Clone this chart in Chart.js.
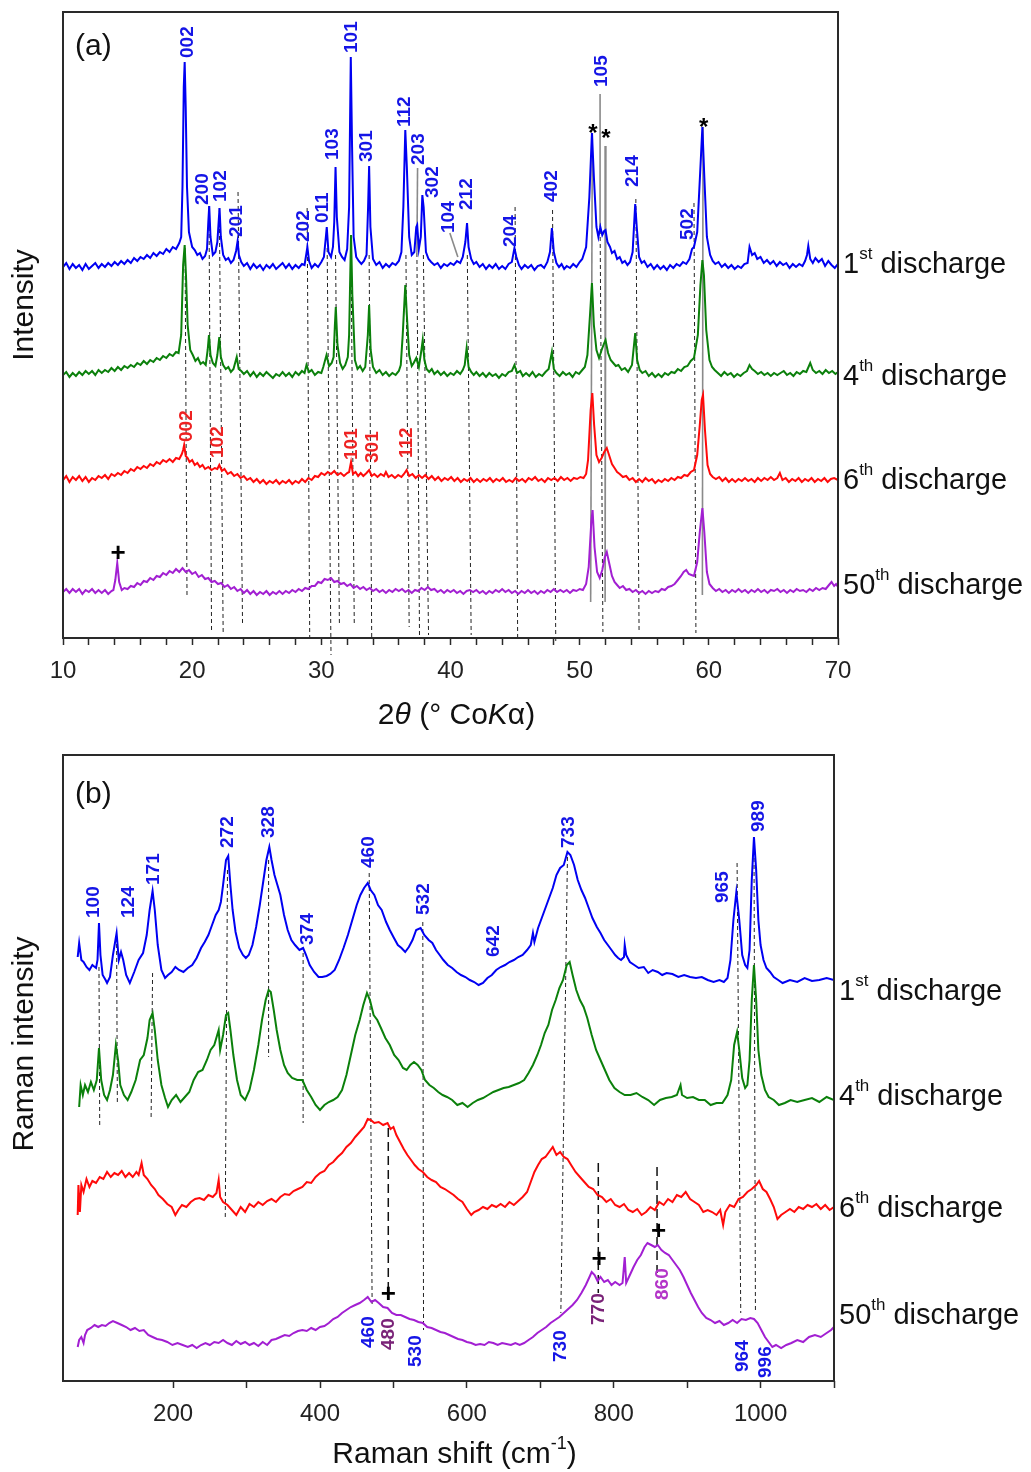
<!DOCTYPE html>
<html><head><meta charset="utf-8">
<script src="https://cdn.jsdelivr.net/npm/chart.js@4.4.1/dist/chart.umd.min.js"></script>
<style>
html,body{margin:0;padding:0;background:#fff;}
#wrap{position:relative;width:1031px;height:1472px;background:#fff;}
#ca{position:absolute;left:0;top:0;}
#cb{position:absolute;left:0;top:740px;}
</style></head><body>
<div id="wrap"><canvas id="ca" width="1031" height="740"></canvas><canvas id="cb" width="1031" height="732"></canvas></div>
<script>
const FONT = '"Liberation Sans", Arial, Helvetica, sans-serif';

// ---------- (a) XRD: [2theta, intensity above own baseline] ----------
const xrd1st = [[10,0],[10.25,4],[10.5,-2],[10.75,3],[11,-1],[11.25,2],[11.5,-3],[11.75,3],[12,-2],[12.25,1],[12.5,4],[12.75,-1],[13,3],[13.25,0],[13.5,4],[13.75,1],[14,5],[14.25,2],[14.5,6],[14.75,3],[15,7],[15.25,4],[15.5,9],[15.75,6],[16,10],[16.25,8],[16.5,12],[16.75,9],[17,14],[17.25,11],[17.5,15],[17.75,13],[18,18],[18.25,15],[18.5,20],[18.75,18],[19.0,24],[19.15,30],[19.25,80],[19.35,180],[19.42,205],[19.5,160],[19.6,80],[19.75,35],[20,20],[20.2,17],[20.4,12],[20.6,14],[20.8,8],[21.0,11],[21.15,18],[21.25,45],[21.32,61],[21.42,30],[21.6,12],[21.8,15],[21.95,25],[22.05,45],[22.12,59],[22.22,30],[22.4,12],[22.6,7],[22.8,9],[23.0,4],[23.2,7],[23.4,16],[23.52,26],[23.62,12],[23.8,5],[24,1],[24.25,4],[24.5,-2],[24.75,3],[25,-1],[25.25,2],[25.5,-3],[25.75,2],[26,-1],[26.25,3],[26.5,-2],[26.75,1],[27,4],[27.25,-1],[27.5,3],[27.75,-2],[28,2],[28.25,-1],[28.5,3],[28.7,2],[28.85,14],[28.92,20],[29.05,6],[29.25,-1],[29.5,3],[29.75,0],[30.0,5],[30.2,10],[30.35,30],[30.42,40],[30.55,15],[30.75,10],[30.9,20],[31.0,45],[31.1,100],[31.2,50],[31.4,15],[31.6,10],[31.8,7],[32.0,18],[32.15,60],[32.28,210],[32.38,120],[32.5,30],[32.7,10],[32.9,6],[33.1,3],[33.3,6],[33.5,12],[33.62,60],[33.7,101],[33.8,40],[34.0,8],[34.25,2],[34.5,5],[34.75,-1],[35,3],[35.25,0],[35.5,4],[35.75,2],[36.0,6],[36.2,15],[36.35,60],[36.5,137],[36.62,100],[36.8,30],[37.0,12],[37.2,15],[37.35,40],[37.42,42],[37.55,18],[37.7,30],[37.82,72],[37.92,60],[38.1,15],[38.3,8],[38.5,5],[38.75,2],[39,4],[39.25,-1],[39.5,3],[39.75,1],[40,4],[40.25,2],[40.5,6],[40.75,4],[40.95,10],[41.15,25],[41.28,44],[41.4,20],[41.6,8],[41.8,3],[42,5],[42.25,0],[42.5,3],[42.75,-2],[43,2],[43.25,-1],[43.5,3],[43.75,-2],[44,1],[44.25,-2],[44.5,3],[44.75,5],[44.95,19],[45.1,10],[45.3,2],[45.5,-2],[45.75,2],[46,-1],[46.25,2],[46.5,-3],[46.75,1],[47,2],[47.25,-1],[47.5,5],[47.7,15],[47.85,39],[48.0,15],[48.2,4],[48.4,0],[48.6,3],[48.8,-2],[49,1],[49.25,-1],[49.5,3],[49.75,0],[50,5],[50.2,8],[50.5,20],[50.75,70],[50.95,134],[51.1,90],[51.3,40],[51.45,30],[51.6,40],[51.75,32],[51.9,36],[52.0,37],[52.15,25],[52.35,20],[52.5,14],[52.7,16],[52.9,8],[53.1,10],[53.3,4],[53.5,6],[53.7,2],[53.9,5],[54.1,15],[54.3,63],[54.42,40],[54.6,10],[54.8,4],[55.0,6],[55.25,0],[55.5,3],[55.75,-2],[56,2],[56.25,-2],[56.5,1],[56.75,-3],[57,2],[57.25,-1],[57.5,3],[57.75,1],[58,5],[58.25,3],[58.5,8],[58.7,18],[58.85,20],[59.1,35],[59.35,100],[59.5,140],[59.65,90],[59.85,30],[60.1,12],[60.3,6],[60.5,3],[60.75,5],[61,0],[61.25,3],[61.5,-1],[61.75,2],[62,-2],[62.25,1],[62.5,-1],[62.75,3],[63.0,4],[63.15,20],[63.35,12],[63.55,14],[63.75,8],[64,10],[64.25,4],[64.5,7],[64.75,3],[65,6],[65.25,1],[65.5,5],[65.75,2],[66,4],[66.25,-1],[66.5,3],[66.75,0],[67,3],[67.25,1],[67.45,6],[67.6,12],[67.7,21],[67.85,8],[68.05,4],[68.25,9],[68.5,5],[68.75,8],[69,1],[69.25,6],[69.5,2],[69.75,-1],[70,3]];
const xrd4th = [[10,0],[10.25,3],[10.5,-2],[10.75,2],[11,-1],[11.25,3],[11.5,0],[11.75,4],[12,1],[12.25,4],[12.5,0],[12.75,5],[13,2],[13.25,5],[13.5,3],[13.75,7],[14,4],[14.25,8],[14.5,5],[14.75,9],[15,7],[15.25,10],[15.5,8],[15.75,12],[16,10],[16.25,14],[16.5,11],[16.75,15],[17,13],[17.25,17],[17.5,15],[17.75,19],[18,17],[18.25,21],[18.5,19],[18.75,23],[18.95,22],[19.15,40],[19.3,110],[19.42,130],[19.52,100],[19.65,50],[19.85,25],[20.05,20],[20.25,14],[20.45,17],[20.65,11],[20.85,13],[21.05,10],[21.2,25],[21.3,40],[21.42,20],[21.6,12],[21.8,9],[21.95,20],[22.1,38],[22.22,18],[22.4,10],[22.6,6],[22.8,8],[23.0,3],[23.2,6],[23.45,18],[23.6,6],[23.8,4],[24.0,1],[24.25,4],[24.5,-1],[24.75,3],[25,-2],[25.25,2],[25.5,-1],[25.75,3],[26,0],[26.25,-3],[26.5,1],[26.75,-1],[27,3],[27.25,-1],[27.5,2],[27.75,-2],[28,3],[28.25,0],[28.5,4],[28.7,2],[28.85,10],[29.05,3],[29.25,5],[29.5,0],[29.75,3],[30.0,2],[30.15,8],[30.4,20],[30.6,9],[30.8,12],[30.95,18],[31.05,50],[31.12,68],[31.25,30],[31.45,12],[31.65,6],[31.85,10],[32.05,18],[32.15,40],[32.3,140],[32.4,80],[32.6,15],[32.8,6],[33.0,9],[33.2,4],[33.4,8],[33.6,40],[33.7,70],[33.82,25],[34.0,8],[34.25,2],[34.5,5],[34.75,0],[35,3],[35.25,-1],[35.5,2],[35.75,0],[36.0,4],[36.15,10],[36.3,40],[36.5,90],[36.62,60],[36.8,20],[37.0,9],[37.15,12],[37.35,17],[37.55,8],[37.75,25],[37.85,35],[37.98,15],[38.15,6],[38.35,3],[38.55,6],[38.75,1],[39,4],[39.25,0],[39.5,3],[39.75,-1],[40,2],[40.25,0],[40.5,4],[40.75,1],[40.95,5],[41.1,10],[41.25,27],[41.4,8],[41.6,3],[41.8,0],[42,3],[42.25,-1],[42.5,2],[42.75,-2],[43,2],[43.25,-1],[43.5,1],[43.75,-3],[44,1],[44.25,-1],[44.5,3],[44.75,4],[44.95,10],[45.15,2],[45.4,4],[45.6,-1],[45.85,2],[46.1,-1],[46.35,3],[46.6,-2],[46.85,1],[47.1,-1],[47.35,3],[47.6,6],[47.85,23],[48.0,6],[48.2,2],[48.45,-1],[48.7,3],[48.95,0],[49.2,2],[49.45,-2],[49.7,3],[49.95,1],[50.2,5],[50.4,8],[50.6,20],[50.8,60],[50.95,92],[51.1,50],[51.3,25],[51.5,17],[51.7,25],[51.9,32],[52.0,35],[52.2,22],[52.4,15],[52.6,12],[52.8,9],[53.0,10],[53.25,5],[53.5,7],[53.75,3],[54.05,10],[54.3,42],[54.45,15],[54.65,5],[54.85,2],[55.1,4],[55.35,-1],[55.6,2],[55.85,-2],[56.1,1],[56.35,-2],[56.6,2],[56.85,0],[57.1,3],[57.35,2],[57.6,6],[57.85,4],[58.1,8],[58.35,9],[58.6,14],[58.85,17],[59.15,40],[59.35,90],[59.5,115],[59.62,100],[59.8,45],[60.05,15],[60.25,8],[60.45,5],[60.7,2],[60.95,-1],[61.2,3],[61.45,0],[61.7,2],[61.95,-2],[62.2,1],[62.45,-1],[62.7,2],[62.95,4],[63.15,10],[63.35,6],[63.55,4],[63.8,1],[64.05,3],[64.3,0],[64.55,2],[64.8,-1],[65.05,2],[65.3,0],[65.55,2],[65.8,4],[66.05,0],[66.3,2],[66.55,-1],[66.8,3],[67.05,1],[67.3,4],[67.55,3],[67.85,12],[68.05,5],[68.3,2],[68.55,4],[68.8,1],[69.05,5],[69.3,2],[69.55,4],[69.8,1],[70,3]];
const xrd6th = [[10,0],[10.25,4],[10.5,-2],[10.75,3],[11,0],[11.25,4],[11.5,-1],[11.75,3],[12,-2],[12.25,2],[12.5,0],[12.75,4],[13,2],[13.25,5],[13.5,1],[13.75,6],[14,4],[14.25,7],[14.5,5],[14.75,9],[15,7],[15.25,11],[15.5,9],[15.75,13],[16,11],[16.25,14],[16.5,12],[16.75,16],[17,14],[17.25,18],[17.5,16],[17.75,20],[18,18],[18.25,21],[18.5,18],[18.75,22],[19.0,21],[19.2,26],[19.3,30],[19.38,35],[19.5,24],[19.65,22],[19.8,18],[20.0,20],[20.2,15],[20.4,17],[20.6,13],[20.8,15],[21.0,11],[21.25,13],[21.5,10],[21.75,12],[21.95,11],[22.1,15],[22.3,9],[22.5,11],[22.75,6],[23.0,8],[23.25,4],[23.5,6],[23.75,2],[24,4],[24.25,0],[24.5,2],[24.75,-2],[25,1],[25.25,-3],[25.5,0],[25.75,-4],[26,-1],[26.25,-3],[26.5,0],[26.75,-4],[27,-1],[27.25,-3],[27.5,0],[27.75,-4],[28,-1],[28.25,-3],[28.5,1],[28.75,-2],[29,2],[29.25,0],[29.5,4],[29.75,3],[30,7],[30.25,5],[30.5,8],[30.75,6],[31,9],[31.25,5],[31.5,7],[31.75,4],[32.0,7],[32.15,8],[32.3,18],[32.45,6],[32.65,8],[32.85,4],[33.05,7],[33.25,4],[33.5,7],[33.7,10],[33.9,4],[34.1,6],[34.35,3],[34.6,6],[34.85,4],[35.0,8],[35.2,3],[35.45,5],[35.7,2],[35.95,5],[36.2,3],[36.4,6],[36.6,10],[36.8,4],[37.05,6],[37.3,2],[37.55,5],[37.8,2],[38.05,5],[38.3,1],[38.55,4],[38.8,0],[39.05,3],[39.3,-1],[39.55,2],[39.8,0],[40.05,3],[40.3,-1],[40.55,2],[40.8,-2],[41.05,1],[41.3,-1],[41.55,2],[41.8,-2],[42.05,1],[42.3,-2],[42.55,1],[42.8,-1],[43.05,2],[43.3,-2],[43.55,1],[43.8,-1],[44.05,2],[44.3,-2],[44.55,0],[44.8,-2],[45.05,2],[45.3,-1],[45.55,1],[45.8,-2],[46.05,2],[46.3,0],[46.55,3],[46.8,-1],[47.05,1],[47.3,-2],[47.55,2],[47.8,0],[48.05,2],[48.3,-1],[48.55,3],[48.8,0],[49.05,2],[49.3,-1],[49.55,2],[49.8,1],[50.05,3],[50.3,2],[50.5,6],[50.65,20],[50.85,70],[50.98,87],[51.12,55],[51.3,25],[51.5,18],[51.7,22],[51.9,28],[52.1,32],[52.3,24],[52.5,16],[52.7,12],[52.9,8],[53.1,6],[53.35,3],[53.6,4],[53.85,0],[54.1,2],[54.35,-2],[54.6,1],[54.85,-2],[55.1,2],[55.35,-1],[55.6,1],[55.85,-3],[56.1,0],[56.35,-2],[56.6,1],[56.85,-1],[57.1,2],[57.35,0],[57.6,3],[57.85,2],[58.1,5],[58.35,4],[58.6,8],[58.85,10],[59.1,25],[59.3,55],[59.45,80],[59.55,85],[59.7,50],[59.9,15],[60.1,6],[60.3,3],[60.55,1],[60.8,3],[61.05,-1],[61.3,2],[61.55,-2],[61.8,1],[62.05,-2],[62.3,1],[62.55,-1],[62.8,2],[63.05,-1],[63.3,1],[63.55,-2],[63.8,2],[64.05,-1],[64.3,2],[64.55,0],[64.8,3],[65.05,0],[65.3,2],[65.5,7],[65.7,0],[65.95,2],[66.2,-2],[66.45,1],[66.7,-1],[66.95,2],[67.2,-2],[67.45,1],[67.7,-1],[67.95,2],[68.2,-2],[68.45,1],[68.7,-1],[68.95,2],[69.2,-2],[69.45,1],[69.7,2],[70,0]];
const xrd50th = [[10,0],[10.25,3],[10.5,-1],[10.75,3],[11,0],[11.25,3],[11.5,-2],[11.75,2],[12,0],[12.25,3],[12.5,-1],[12.75,2],[13,-1],[13.25,2],[13.5,-2],[13.75,1],[13.9,2],[14.05,12],[14.2,29],[14.35,10],[14.55,2],[14.75,4],[15,3],[15.25,6],[15.5,5],[15.75,9],[16,7],[16.25,11],[16.5,10],[16.75,14],[17,12],[17.25,16],[17.5,15],[17.75,19],[18,17],[18.25,21],[18.5,19],[18.75,23],[19,20],[19.25,24],[19.5,20],[19.75,22],[20,18],[20.25,20],[20.5,15],[20.75,17],[21,13],[21.25,14],[21.5,10],[21.75,11],[22,8],[22.25,9],[22.5,5],[22.75,7],[23,3],[23.25,5],[23.5,1],[23.75,3],[24,-1],[24.25,2],[24.5,-2],[24.75,1],[25,-3],[25.25,0],[25.5,-2],[25.75,1],[26,-3],[26.25,0],[26.5,-2],[26.75,1],[27,-2],[27.25,1],[27.5,-1],[27.75,2],[28,0],[28.25,3],[28.5,1],[28.75,4],[29,3],[29.25,6],[29.5,6],[29.75,10],[30,9],[30.25,13],[30.5,12],[30.75,14],[31,10],[31.25,11],[31.5,8],[31.75,9],[32,6],[32.25,8],[32.5,4],[32.75,6],[33,3],[33.25,5],[33.5,2],[33.75,4],[34,1],[34.25,3],[34.5,0],[34.75,2],[35,-1],[35.25,2],[35.5,0],[35.75,3],[36,1],[36.25,3],[36.5,0],[36.75,2],[37,-1],[37.25,2],[37.5,1],[37.75,4],[38,2],[38.25,5],[38.5,2],[38.75,3],[39,0],[39.25,2],[39.5,-1],[39.75,2],[40,0],[40.25,2],[40.5,-1],[40.75,1],[41,-2],[41.25,1],[41.5,2],[41.75,0],[42,2],[42.25,-1],[42.5,1],[42.75,-2],[43,1],[43.25,-1],[43.5,2],[43.75,0],[44,3],[44.25,0],[44.5,2],[44.75,-1],[45,1],[45.25,-2],[45.5,1],[45.75,-1],[46,2],[46.25,-1],[46.5,1],[46.75,-2],[47,1],[47.25,-1],[47.5,2],[47.75,0],[48,3],[48.25,0],[48.5,2],[48.75,0],[49,2],[49.25,-1],[49.5,2],[49.75,1],[50,3],[50.25,2],[50.5,8],[50.7,25],[50.9,70],[51.0,82],[51.15,45],[51.35,20],[51.55,14],[51.75,22],[51.95,35],[52.1,40],[52.3,28],[52.5,16],[52.7,10],[52.9,7],[53.1,4],[53.35,6],[53.6,2],[53.85,3],[54.1,0],[54.35,2],[54.6,-1],[54.85,1],[55.1,-2],[55.35,1],[55.6,-1],[55.85,1],[56.1,0],[56.35,3],[56.6,2],[56.85,5],[57.1,6],[57.35,8],[57.6,12],[57.85,16],[58.05,20],[58.25,22],[58.45,18],[58.65,17],[58.85,16],[59.1,30],[59.3,60],[59.5,84],[59.65,60],[59.85,20],[60.05,8],[60.3,4],[60.55,1],[60.8,3],[61.05,0],[61.3,2],[61.55,-1],[61.8,2],[62.05,0],[62.3,3],[62.55,0],[62.8,2],[63.05,-1],[63.3,2],[63.55,0],[63.8,3],[64.05,0],[64.3,2],[64.55,-1],[64.8,2],[65.05,1],[65.3,3],[65.55,0],[65.8,2],[66.05,-1],[66.3,2],[66.55,0],[66.8,3],[67.05,1],[67.3,2],[67.55,0],[67.8,3],[68.05,1],[68.3,4],[68.55,2],[68.8,4],[69.05,3],[69.3,7],[69.5,10],[69.7,6],[69.85,8],[70,5]];
const xrdOffsets = [371, 263, 158, 46];
const xrdSeriesLabels = [['1','st',373],['4','th',261],['6','th',157],['50','th',52]];
const xrdLabelsBlue = [['002',19.67,580],['200',20.84,433],['102',22.23,436],['201',23.47,401],['202',28.65,396],['011',30.12,415],['103',30.9,478],['101',32.37,585],['301',33.53,476],['112',36.47,511],['203',37.55,473],['302',38.64,440],['104',39.88,405],['212',41.27,428],['204',44.67,391],['402',47.85,436],['105',51.72,551],['214',54.12,451],['502',58.37,398]];
const xrdLabelsRed = [['002',19.6,196],['102',22.0,180],['101',32.37,178],['301',33.99,175],['112',36.63,180]];
const xrdStars = [[51.02,511],[52.03,506],[59.6,517]];
const xrdPlus = [[14.26,86]];
const xrdDashed = [[19.45,390,19.6,43],[21.3,432,21.5,8],[22.1,430,22.4,5],[23.55,446,23.9,13],[28.9,430,29.1,1],[30.45,390,30.75,-17],[31.1,383,31.4,13],[32.3,383,32.55,13],[33.7,383,33.9,0],[36.55,383,36.8,11],[37.4,385,37.6,1],[37.9,383,38.3,3],[41.3,383,41.6,3],[45.0,431,45.2,-2],[47.9,428,48.15,-5],[51.58,415,51.8,6],[54.35,439,54.6,5],[58.85,435,59.0,5]];
const xrdSolid = [[50.98,505,50.85,36],[52.03,492,51.97,36],[59.55,511,59.5,43],[51.58,544,51.58,415],[37.45,470,37.4,385],[39.95,405,40.57,381]];

// ---------- (b) Raman: [shift cm-1, intensity above own baseline] ----------
const raman1st = [[70,23],[72,37],[75,20],[78,18],[82,13],[86,10],[90,15],[95,12],[97,20],[99,57],[101,25],[104,5],[108,0],[110,-3],[114,3],[118,25],[123,47],[126,20],[129,28],[132,20],[136,5],[141,-3],[147,8],[153,20],[159,27],[164,45],[168,70],[172,89],[175,70],[179,35],[184,10],[189,2],[193,5],[198,8],[203,13],[208,10],[214,8],[220,12],[226,15],[232,22],[238,32],[243,38],[248,45],[253,55],[258,65],[262,70],[265,78],[268,95],[272,120],[275,124],[278,95],[281,70],[285,48],[290,32],[295,25],[299,22],[303,25],[308,35],[313,53],[318,75],[323,100],[327,120],[331,133],[334,120],[338,105],[342,95],[346,85],[351,65],[356,50],[361,40],[366,35],[372,30],[377,32],[381,25],[386,15],[392,8],[398,3],[403,3],[409,4],[414,6],[420,10],[426,20],[432,32],[438,45],[444,60],[450,75],[455,85],[460,92],[465,97],[469,90],[474,85],[479,75],[484,70],[490,58],[495,50],[500,43],[506,35],[511,32],[516,28],[521,33],[526,40],[531,50],[537,52],[542,45],[548,40],[553,37],[558,30],[563,25],[568,20],[574,15],[580,12],[586,8],[592,5],[598,3],[604,0],[610,-2],[616,-5],[622,-3],[628,2],[634,5],[640,10],[646,13],[652,15],[658,18],[664,20],[670,23],[676,25],[682,30],[687,35],[690,47],[692,38],[697,52],[702,62],[707,72],[712,82],[717,92],[722,105],[727,112],[732,115],[737,128],[741,125],[746,115],[751,100],[756,90],[761,82],[766,72],[771,62],[777,53],[782,47],[787,40],[792,35],[797,30],[802,25],[806,22],[810,20],[814,23],[815,35],[817,25],[822,18],[828,15],[834,12],[841,13],[847,7],[853,10],[860,8],[866,5],[872,7],[880,6],[888,3],[896,5],[904,3],[912,2],[920,3],[928,0],[936,-2],[944,0],[950,-2],[955,2],[959,20],[963,60],[967,88],[971,60],[975,25],[979,15],[982,12],[985,30],[988,100],[991,143],[994,110],[997,60],[1000,35],[1004,20],[1008,12],[1013,8],[1018,3],[1024,0],[1030,-3],[1040,0],[1050,-2],[1060,2],[1070,-1],[1080,0],[1090,2],[1100,0]];
const raman4th = [[72,-7],[74,15],[77,5],[80,15],[84,8],[88,18],[92,10],[96,20],[99,52],[102,20],[106,5],[110,0],[114,10],[118,25],[122,55],[125,40],[128,15],[133,5],[138,0],[143,8],[149,20],[155,40],[160,45],[165,62],[168,80],[172,87],[175,70],[179,40],[184,15],[189,2],[193,-7],[198,0],[204,5],[210,-2],[216,3],[222,8],[228,20],[234,28],[240,30],[246,40],[251,50],[256,55],[260,65],[262,70],[264,50],[268,65],[272,85],[275,87],[278,70],[282,45],[287,20],[292,5],[298,0],[304,10],[310,30],[316,55],[321,80],[326,100],[330,110],[333,108],[337,90],[341,70],[346,50],[351,35],[356,27],[362,22],[369,20],[376,20],[382,10],[388,3],[394,-5],[400,-10],[406,-5],[412,-2],[418,0],[424,3],[430,10],[436,25],[442,45],[448,65],[454,80],[459,95],[464,107],[468,100],[473,85],[478,80],[483,72],[489,62],[495,55],[501,45],[507,40],[513,32],[518,30],[523,35],[528,38],[533,35],[538,30],[543,20],[549,15],[555,12],[561,8],[567,5],[573,3],[580,0],[587,-5],[594,-3],[601,-7],[608,-3],[615,0],[622,2],[629,5],[636,8],[643,10],[650,12],[657,13],[664,15],[671,17],[678,20],[684,27],[690,35],[696,45],[701,55],[706,67],[711,75],[716,90],[721,100],[726,112],[731,120],[736,135],[740,138],[744,125],[749,110],[754,100],[759,93],[764,82],[770,65],[776,50],[782,40],[788,30],[794,20],[801,12],[808,8],[815,5],[823,5],[831,7],[839,3],[847,0],[855,-5],[863,0],[871,2],[879,3],[886,5],[891,15],[893,5],[900,2],[908,3],[916,0],[924,0],[932,-5],[940,-3],[948,-3],[955,5],[960,20],[964,55],[968,68],[971,50],[975,22],[979,12],[982,15],[985,40],[988,100],[991,135],[994,100],[997,50],[1001,25],[1006,10],[1011,3],[1018,0],[1025,-5],[1033,-3],[1041,0],[1050,-2],[1060,0],[1070,2],[1080,-2],[1090,3],[1100,0]];
const raman6th = [[70,-8],[71,22],[73,-5],[75,22],[78,15],[82,28],[86,20],[90,26],[95,24],[100,30],[105,28],[110,35],[115,30],[120,34],[125,32],[130,36],[135,30],[140,34],[145,30],[150,35],[153,32],[157,44],[160,32],[165,28],[170,22],[175,18],[180,12],[186,8],[192,3],[198,0],[203,-8],[207,-3],[212,2],[218,0],[224,5],[230,8],[236,9],[242,7],[248,12],[254,10],[259,14],[262,27],[264,10],[268,5],[274,2],[280,-3],[286,-8],[292,0],[298,-5],[304,3],[310,0],[316,5],[322,2],[328,6],[334,8],[340,5],[346,10],[352,13],[358,12],[364,16],[370,18],[376,20],[382,25],[388,24],[394,30],[400,34],[406,36],[412,42],[418,45],[424,50],[430,54],[436,60],[442,64],[448,70],[454,75],[460,80],[465,88],[469,87],[474,84],[480,85],[486,82],[492,84],[496,78],[500,80],[504,72],[509,65],[514,58],[519,52],[524,47],[529,42],[534,38],[540,35],[546,30],[552,27],[558,25],[564,20],[570,18],[576,15],[582,12],[588,8],[594,5],[600,-2],[606,-8],[610,-5],[616,-3],[622,0],[628,-2],[634,2],[640,0],[646,3],[652,0],[658,5],[664,2],[670,6],[676,10],[682,15],[687,25],[692,35],[697,42],[702,48],[707,50],[712,55],[717,60],[722,52],[727,55],[732,50],[737,48],[742,42],[748,35],[754,30],[760,25],[766,20],[772,18],[778,12],[784,10],[790,5],[796,8],[802,2],[808,0],[814,3],[820,-3],[826,-5],[832,-2],[838,-8],[844,-5],[850,0],[856,-3],[862,5],[868,2],[874,8],[880,5],[886,12],[892,10],[898,15],[904,8],[910,5],[916,2],[922,-5],[928,-3],[934,-5],[940,-8],[945,-3],[949,-18],[952,-5],[958,2],[964,0],[970,8],[976,10],[982,15],[988,18],[994,22],[998,26],[1003,18],[1008,15],[1013,8],[1018,0],[1023,-12],[1028,-8],[1034,-5],[1040,-2],[1046,-5],[1052,0],[1058,-2],[1064,2],[1070,0],[1076,3],[1082,-2],[1088,2],[1094,-3],[1100,0]];
const raman50th = [[70,-2],[72,5],[75,8],[78,2],[80,10],[83,15],[88,17],[93,20],[98,18],[103,20],[108,19],[113,22],[118,24],[124,22],[130,20],[136,18],[142,15],[148,17],[154,14],[160,15],[166,10],[172,8],[178,6],[185,5],[192,3],[199,0],[206,2],[213,0],[220,-2],[226,0],[232,-3],[238,0],[244,2],[250,0],[256,3],[262,2],[268,5],[274,2],[280,0],[286,4],[292,1],[298,3],[304,0],[310,2],[316,-1],[322,3],[328,0],[334,5],[340,6],[346,8],[352,10],[358,9],[364,12],[370,14],[376,15],[382,14],[388,17],[394,15],[400,18],[406,19],[412,22],[418,26],[424,28],[430,32],[436,35],[442,38],[448,40],[454,42],[460,45],[465,48],[470,43],[475,45],[480,42],[486,38],[492,37],[498,32],[504,30],[510,30],[516,28],[522,26],[528,25],[534,23],[540,22],[546,18],[552,17],[558,15],[564,13],[570,12],[576,10],[582,8],[588,6],[594,5],[600,3],[606,2],[612,0],[618,1],[624,0],[630,3],[636,2],[642,0],[648,2],[654,1],[660,0],[666,2],[672,0],[678,2],[684,5],[690,8],[696,12],[702,15],[708,18],[714,22],[720,25],[726,28],[732,32],[738,36],[744,40],[750,45],[756,52],[762,60],[767,68],[770,73],[774,70],[778,64],[782,68],[787,63],[792,65],[797,60],[802,63],[808,60],[812,62],[815,88],[817,62],[822,70],[827,78],[832,85],[837,90],[842,98],[846,102],[851,100],[856,98],[860,100],[865,95],[870,92],[875,90],[880,85],[885,80],[890,75],[895,68],[900,60],[905,52],[910,45],[915,38],[920,32],[926,27],[932,25],[938,22],[944,24],[950,20],[956,22],[962,25],[968,22],[974,26],[980,25],[986,27],[991,26],[996,22],[1001,15],[1006,8],[1011,3],[1016,-2],[1021,0],[1028,-3],[1035,0],[1042,2],[1050,5],[1058,3],[1066,8],[1074,10],[1082,8],[1090,12],[1096,15],[1100,18]];
const ramanOffsets = [401, 281, 174, 36];
const ramanSeriesLabels = [['1','st',389],['4','th',284],['6','th',172],['50','th',65]];
const ramanLabelsTop = [['100',92,463],['124',140,463],['171',173,496],['272',275,533],['328',330,543],['374',384,436],['460',467,513],['532',541,466],['642',636,424],['733',739,533],['965',949,478],['989',998,549]];
const ramanLabelsBottomBlue = [['460',466,33],['530',531,14],['730',728,19],['964',976,9],['996',1007,3]];
const ramanLabelsBottomDark = [['480',493,31],['770',780,56]];
const ramanLabelsBottomMagenta = [['860',867,81]];
const ramanPlus = [[493,88],[780,123],[861,151]];
const ramanDashed = [[99,414,100,256],[123,444,124,278],[172,408,170,264],[274,511,271,164],[330,521,330,324],[377,428,377,258],[467,508,471,74],[540,459,541,51],[737,524,728,68],[968,518,973,68],[991,544,993,68]];
const ramanLongDashed = [[493,253,493,91],[779,218,779,88],[859,214,859,108]];

const seriesColors = ['#0000f2', '#0b800b', '#ff0a0a', '#a21fd2'];
const drawOrder = [4, 3, 2, 1];

function curve(pts, off, color, order, w) {
  return {data: pts.map(p => ({x: p[0], y: p[1] + off})), borderColor: color, borderWidth: w,
    pointRadius: 0, tension: 0, fill: false, order: order};
}
function seg(s, color, dash, w) {
  return {data: [{x: s[0], y: s[1]}, {x: s[2], y: s[3]}], borderColor: color, borderWidth: w,
    borderDash: dash, pointRadius: 0, tension: 0, fill: false, order: 20, clip: false};
}
function rich(ctx, runs, x, y, align) {
  let w = 0;
  runs.forEach(r => { ctx.font = r.f; w += ctx.measureText(r.t).width; });
  let cx = align === 'center' ? x - w / 2 : x;
  ctx.textAlign = 'left'; ctx.textBaseline = 'middle';
  runs.forEach(r => { ctx.font = r.f; ctx.fillText(r.t, cx, y + (r.dy || 0)); cx += ctx.measureText(r.t).width; });
}

const overlay = {
  id: 'overlay',
  afterDatasetsDraw(chart, args, o) {
    const ctx = chart.ctx, ca = chart.chartArea, xs = chart.scales.x, ys = chart.scales.y;
    ctx.save();
    ctx.strokeStyle = '#2a2a2a'; ctx.lineWidth = 2;
    ctx.strokeRect(ca.left, ca.top, ca.right - ca.left, ca.bottom - ca.top);
    (o.labels || []).forEach(g => {
      ctx.fillStyle = g.color; ctx.font = `bold 19px ${FONT}`;
      g.items.forEach(([t, xv, yv]) => {
        ctx.save();
        ctx.translate(xs.getPixelForValue(xv), ys.getPixelForValue(yv));
        ctx.rotate(-Math.PI / 2);
        ctx.textAlign = 'left'; ctx.textBaseline = 'middle';
        ctx.fillText(t, 0, 0);
        ctx.restore();
      });
    });
    ctx.fillStyle = '#000'; ctx.textAlign = 'center'; ctx.textBaseline = 'alphabetic';
    ctx.font = `bold 24px ${FONT}`;
    (o.stars || []).forEach(([xv, yv]) => ctx.fillText('*', xs.getPixelForValue(xv), ys.getPixelForValue(yv) + 14));
    ctx.font = `bold 26px ${FONT}`;
    (o.pluses || []).forEach(([xv, yv]) => ctx.fillText('+', xs.getPixelForValue(xv), ys.getPixelForValue(yv) + 9));
    ctx.fillStyle = '#111';
    o.series.forEach(([n, sup, yv]) => {
      rich(ctx, [{t: n, f: `29px ${FONT}`}, {t: sup, f: `17px ${FONT}`, dy: -11}, {t: ' discharge', f: `29px ${FONT}`}],
        ca.right + 5, ys.getPixelForValue(yv), 'left');
    });
    ctx.font = `30px ${FONT}`; ctx.textAlign = 'left'; ctx.textBaseline = 'middle';
    ctx.fillText(o.letter, ca.left + 12, ca.top + o.letterDy);
    rich(ctx, o.xTitle, (ca.left + ca.right) / 2 + 6, o.xTitleY, 'center');
    ctx.save();
    ctx.translate(25, o.yTitleY); ctx.rotate(-Math.PI / 2);
    ctx.font = `30px ${FONT}`; ctx.textAlign = 'center'; ctx.textBaseline = 'middle';
    ctx.fillText(o.yTitle, 0, 0);
    ctx.restore();
    ctx.restore();
  }
};

function build(id, datasets, xo, pad, xh, ov) {
  return new Chart(document.getElementById(id), {
    type: 'line',
    data: {datasets: datasets},
    options: {
      responsive: false, animation: false, devicePixelRatio: 1,
      layout: {padding: pad},
      plugins: {legend: {display: false}, tooltip: {enabled: false}, overlay: ov},
      scales: {
        x: {type: 'linear', min: xo.min, max: xo.max,
          ticks: {stepSize: xo.step, autoSkip: false, maxRotation: 0, padding: 12, color: '#222',
            font: {family: FONT, size: 24}, callback: v => (v % xo.major === 0 ? String(v) : '')},
          afterBuildTicks: s => { s.ticks = s.ticks.filter(t => Math.abs(t.value / xo.step - Math.round(t.value / xo.step)) < 1e-6); },
          grid: {drawOnChartArea: false, drawTicks: true, tickLength: 7, tickColor: '#2a2a2a', tickWidth: 1.5},
          border: {display: false},
          afterFit: s => { s.height = xh; }},
        y: {display: false, min: 0, max: 626}
      }
    },
    plugins: [overlay]
  });
}

// ----- panel (a)
const dsA = [];
[xrd1st, xrd4th, xrd6th, xrd50th].forEach((s, i) => dsA.push(curve(s, xrdOffsets[i], seriesColors[i], drawOrder[i], 2)));
xrdDashed.forEach(s => dsA.push(seg(s, '#222', [4, 3], 1)));
xrdSolid.forEach(s => dsA.push(seg(s, '#8a8a8a', [], 1.6)));
build('ca', dsA, {min: 10, max: 70, step: 2, major: 10}, {left: 63, right: 193, top: 12, bottom: 0}, 102, {
  labels: [{color: '#1515e6', items: xrdLabelsBlue}, {color: '#ee2222', items: xrdLabelsRed}],
  stars: xrdStars, pluses: xrdPlus, series: xrdSeriesLabels,
  letter: '(a)', letterDy: 35,
  xTitle: [{t: '2', f: `30px ${FONT}`}, {t: 'θ', f: `italic 30px ${FONT}`}, {t: ' (° Co', f: `30px ${FONT}`},
           {t: 'K', f: `italic 30px ${FONT}`}, {t: 'α)', f: `30px ${FONT}`}],
  xTitleY: 716, yTitle: 'Intensity', yTitleY: 305
});

// ----- panel (b)
const dsB = [];
[raman1st, raman4th, raman6th, raman50th].forEach((s, i) => dsB.push(curve(s, ramanOffsets[i], seriesColors[i], drawOrder[i], 2)));
ramanDashed.forEach(s => dsB.push(seg(s, '#222', [4, 3], 1)));
ramanLongDashed.forEach(s => dsB.push(seg(s, '#111', [9, 5], 1.5)));
build('cb', dsB, {min: 50, max: 1100, step: 100, major: 200}, {left: 63, right: 197, top: 15, bottom: 0}, 91, {
  labels: [{color: '#1515e6', items: ramanLabelsTop}, {color: '#1515e6', items: ramanLabelsBottomBlue},
           {color: '#7a2378', items: ramanLabelsBottomDark}, {color: '#b435c8', items: ramanLabelsBottomMagenta}],
  stars: [], pluses: ramanPlus, series: ramanSeriesLabels,
  letter: '(b)', letterDy: 40,
  xTitle: [{t: 'Raman shift (cm', f: `30px ${FONT}`}, {t: '-1', f: `18px ${FONT}`, dy: -11}, {t: ')', f: `30px ${FONT}`}],
  xTitleY: 715, yTitle: 'Raman intensity', yTitleY: 304
});
</script>
</body></html>
